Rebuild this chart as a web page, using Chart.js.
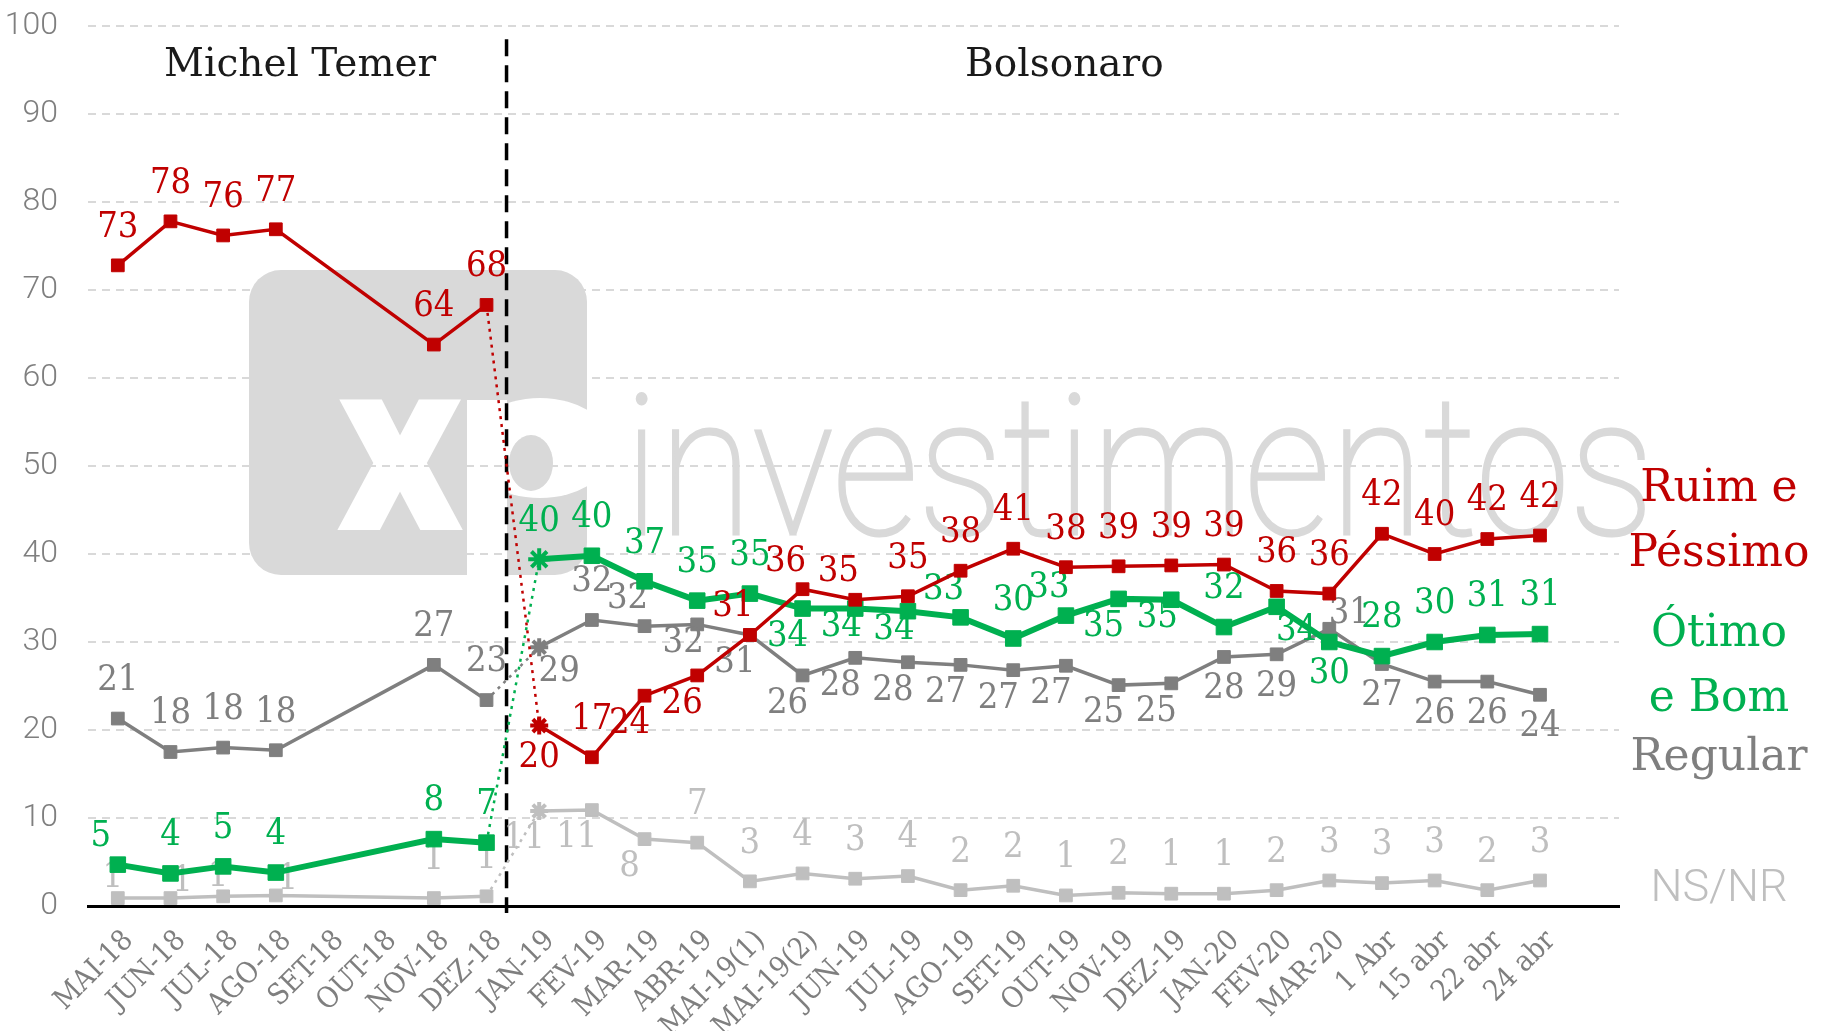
<!DOCTYPE html>
<html>
<head>
<meta charset="utf-8">
<title>Avaliação do governo</title>
<script src="https://cdn.jsdelivr.net/npm/chart.js@4.4.1/dist/chart.umd.min.js"></script>
<style>
  html, body { margin:0; padding:0; background:#fff; }
  #wrap { width:1829px; height:1031px; position:relative; }
</style>
</head>
<body>
<div id="wrap"><canvas id="pollChart"></canvas></div>
<script>
/* ===========================
   DATA
=========================== */
const categories = ["MAI-18","JUN-18","JUL-18","AGO-18","SET-18","OUT-18","NOV-18","DEZ-18",
  "JAN-19","FEV-19","MAR-19","ABR-19","MAI-19(1)","MAI-19(2)","JUN-19","JUL-19","AGO-19",
  "SET-19","OUT-19","NOV-19","DEZ-19","JAN-20","FEV-20","MAR-20","1 Abr","15 abr","22 abr","24 abr"];

const yTicks = [0,10,20,30,40,50,60,70,80,90,100];

const ruimValues    = [72.8,77.8,76.2,76.9,null,null,63.8,68.3,20.5,16.9,23.9,26.2,30.8,36.0,34.8,35.2,38.1,40.6,38.5,38.6,38.7,38.8,35.8,35.5,42.3,40.0,41.7,42.1];
const ruimLabels    = [73,78,76,77,null,null,64,68,20,17,24,26,31,36,35,35,38,41,38,39,39,39,36,36,42,40,42,42];

const otimoValues   = [4.7,3.7,4.5,3.8,null,null,7.6,7.2,39.4,39.8,36.9,34.7,35.5,33.8,33.8,33.5,32.8,30.4,33.0,34.9,34.8,31.7,34.0,30.0,28.4,30.0,30.8,30.9];
const otimoLabels   = [5,4,5,4,null,null,8,7,40,40,37,35,35,34,34,34,33,30,33,35,35,32,34,30,28,30,31,31];

const regularValues = [21.3,17.5,18.0,17.7,null,null,27.4,23.4,29.4,32.5,31.8,32.0,30.8,26.2,28.2,27.7,27.4,26.8,27.3,25.1,25.3,28.3,28.6,31.5,27.5,25.5,25.5,24.0];
const regularLabels = [21,18,18,18,null,null,27,23,29,32,32,32,31,26,28,28,27,27,27,25,25,28,29,31,27,26,26,24];

const nsValues      = [0.9,0.9,1.1,1.2,null,null,0.9,1.1,10.8,10.9,7.6,7.2,2.8,3.7,3.1,3.4,1.8,2.3,1.2,1.5,1.4,1.4,1.8,2.9,2.6,2.9,1.8,2.9];
const nsLabels      = [1,1,1,1,null,null,1,1,11,11,8,7,3,4,3,4,2,2,1,2,1,1,2,3,3,3,2,3];

const seriesNames = [["Ruim e","Péssimo"],["Ótimo","e Bom"],["Regular"],["NS/NR"]];
const periods = ["Michel Temer","Bolsonaro"];

/* ===========================
   STYLE / PLACEMENT
=========================== */
const RED = "#c00000", GREEN = "#00b050", GRAY = "#7f7f7f", LIGHT = "#bfbfbf";
const SERIF = '"DejaVu Serif Condensed", "DejaVu Serif", serif';

const ruimPos    = ['t','t','t','t',null,null,'t','t','b','t','bl','bl','tl','tl','tl','t','t','t','t','t','t','t','t','t','t','t','t','t'];
const otimoPos   = ['tl','t','t','t',null,null,'t','t','t','t','t','t','t','bl','bls','bls','tl','t','tl','bl','bls','t','br','b','t','t','t','t'];
const regularPos = ['t','t','t','t',null,null,'t','t','br','t','tl','bls','bl','bl','bl','bl','bl','bl','bl','bl','bl','b','b','tr','b','b','b','b'];
const nsPos      = ['s','sr','s','sr',null,null,'t','t','bl','bl','bl','t','t','t','t','t','t','t','t','t','t','t','t','t','t','t','t','t'];

const OFFSETS = {
  t:[0,-38], b:[0,32], tl:[-17,-28], bl:[-15,28], bls:[-14,18],
  br:[20,24], tr:[20,-15], s:[-5,-20], sr:[12,-16]
};

const BREAK_INDEX = categories.indexOf("DEZ-18");
const DIVIDER_AT = 7.38;
const PERIOD_AT = [3.46, 17.97];
const NAME_ROWS = [[47.3,39.9],[30.8,23.5],[16.7],[1.8]];

/* ===========================
   PLUGINS
=========================== */
const pointLabels = {
  id:"pointLabels",
  afterDatasetDraw(chart, args){
    const ds = chart.data.datasets[args.index];
    const ctx = chart.ctx;
    ctx.save();
    ctx.font = "36px " + SERIF;
    ctx.fillStyle = ds.borderColor;
    ctx.textAlign = "center";
    ctx.textBaseline = "middle";
    args.meta.data.forEach((pt, i) => {
      const txt = ds.pointText[i];
      if(txt == null) return;
      const off = OFFSETS[ds.labelPos[i]];
      ctx.fillText(String(txt), pt.x + off[0], pt.y + off[1]);
    });
    ctx.restore();
  }
};

const backdrop = {
  id:"backdrop",
  beforeDraw(chart){
    const ctx = chart.ctx;

    // xp watermark, under the grid
    ctx.save();
    ctx.fillStyle = "#d9d9d9";
    ctx.beginPath();
    ctx.roundRect(249, 270, 338, 305, 32);
    ctx.fill();
    ctx.clip();
    ctx.fillStyle = "#fff";
    ctx.font = "900 246px Roboto";
    const m = ctx.measureText("x");
    ctx.fillText("x", 337 + m.actualBoundingBoxLeft, 530);
    // p: stem + bowl with counter
    ctx.fillRect(467, 400, 40, 180);
    ctx.beginPath();
    ctx.ellipse(540, 448, 73, 50, 0, 0, Math.PI * 2);
    ctx.fill();
    ctx.fillStyle = "#d9d9d9";
    ctx.beginPath();
    ctx.ellipse(531, 463, 22, 28, 0, 0, Math.PI * 2);
    ctx.fill();
    ctx.restore();

    ctx.save();
    ctx.fillStyle = "#d9d9d9";
    ctx.strokeStyle = "#d9d9d9";
    ctx.lineWidth = 3;
    ctx.font = "100 195px Roboto";
    ctx.fillText("investimentos", 624, 534, 1030);
    ctx.strokeText("investimentos", 624, 534, 1030);
    ctx.restore();
  },
  beforeDatasetsDraw(chart){
    const ctx = chart.ctx;
    const xs = chart.scales.x, ys = chart.scales.y;
    const x = xs.getPixelForValue(DIVIDER_AT);
    ctx.save();
    ctx.strokeStyle = "#000";
    ctx.lineWidth = 3.5;
    ctx.setLineDash([17,9]);
    ctx.beginPath();
    ctx.moveTo(x, ys.getPixelForValue(98.5));
    ctx.lineTo(x, ys.bottom + 7);
    ctx.stroke();
    ctx.restore();
  },
  afterDraw(chart){
    const ctx = chart.ctx;
    const xs = chart.scales.x, ys = chart.scales.y;
    ctx.save();
    ctx.textAlign = "center";
    ctx.textBaseline = "middle";
    ctx.fillStyle = "#1a1a1a";
    ctx.font = '39px "DejaVu Serif", serif';
    periods.forEach((p, i) => ctx.fillText(p, xs.getPixelForValue(PERIOD_AT[i]), ys.getPixelForValue(95.5)));

    const cx = chart.chartArea.right + 100;
    chart.data.datasets.forEach((ds, i) => {
      ctx.fillStyle = ds.borderColor;
      ctx.font = i === 3 ? '300 45px Roboto' : '44px "DejaVu Serif", serif';
      seriesNames[i].forEach((line, j) => ctx.fillText(line, cx, ys.getPixelForValue(NAME_ROWS[i][j])));
    });
    ctx.restore();
  }
};

/* ===========================
   DATASETS
=========================== */
function series(values, texts, pos, color, width, radius){
  return {
    data: values.map((v, i) => ({x:i, y:v})),
    pointText: texts,
    labelPos: pos,
    borderColor: color,
    backgroundColor: color,
    borderWidth: width,
    pointRadius: radius,
    pointStyle: categories.map((c, i) => i === BREAK_INDEX + 1 ? "star" : "rect"),
    pointBorderWidth: categories.map((c, i) => i === BREAK_INDEX + 1 ? 4 : 1),
    pointBackgroundColor: color,
    pointBorderColor: color,
    spanGaps: true,
    tension: 0,
    segment: {
      borderDash: c => c.p0DataIndex === BREAK_INDEX ? [3,5] : undefined,
      borderWidth: c => c.p0DataIndex === BREAK_INDEX ? 2.5 : undefined
    }
  };
}

new Chart(document.getElementById("pollChart"), {
  type: "line",
  data: {
    datasets: [
      series(ruimValues, ruimLabels, ruimPos, RED, 3.5, 9),
      series(otimoValues, otimoLabels, otimoPos, GREEN, 6, 11),
      series(regularValues, regularLabels, regularPos, GRAY, 3.5, 9),
      series(nsValues, nsLabels, nsPos, LIGHT, 3.5, 9)
    ]
  },
  options: {
    responsive: true,
    maintainAspectRatio: false,
    animation: false,
    events: [],
    layout: { padding: { top: 26, right: 210, left: 0, bottom: 0 } },
    plugins: { legend: { display: false }, tooltip: { enabled: false } },
    scales: {
      x: {
        type: "linear",
        min: -0.566,
        max: 28.5,
        afterBuildTicks: s => { s.ticks = categories.map((c, i) => ({ value: i })); },
        afterFit: s => { s.height = 125; s.paddingLeft = 0; s.paddingRight = 0; },
        grid: { display: false },
        border: { display: true, color: "#000", width: 3 },
        ticks: {
          autoSkip: false,
          minRotation: 45,
          maxRotation: 45,
          padding: 10,
          labelOffset: 11,
          color: GRAY,
          font: { family: SERIF, size: 29 },
          callback: v => categories[v]
        }
      },
      y: {
        min: 0,
        max: 100,
        afterBuildTicks: s => { s.ticks = yTicks.map(v => ({ value: v })); },
        afterFit: s => { s.width = 88; s.paddingTop = 0; s.paddingBottom = 0; },
        border: { display: false, dash: [8,6] },
        grid: {
          drawTicks: false,
          lineWidth: 2,
          color: c => c.tick.value === 0 ? "rgba(0,0,0,0)" : "#d9d9d9"
        },
        ticks: {
          padding: 30,
          color: GRAY,
          font: { family: "Roboto", weight: "300", size: 32 }
        }
      }
    }
  },
  plugins: [pointLabels, backdrop]
});
</script>
</body>
</html>
